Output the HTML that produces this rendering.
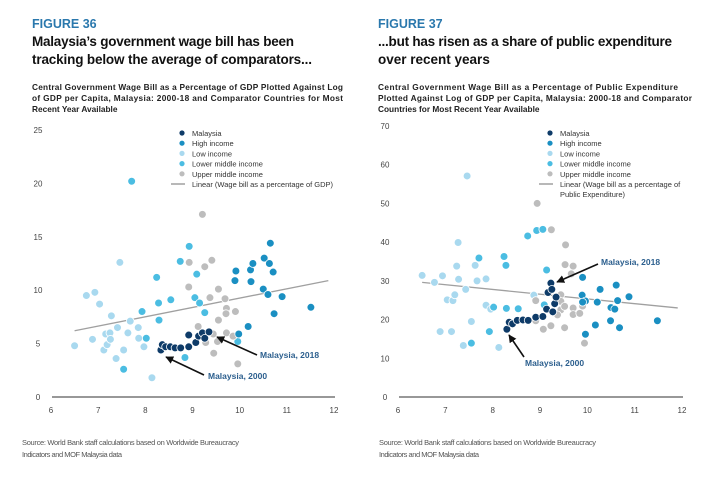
<!DOCTYPE html>
<html><head><meta charset="utf-8"><style>
html,body{margin:0;padding:0;background:#fff}
svg{display:block;font-family:"Liberation Sans",sans-serif}
</style></head><body>
<svg id="root" width="708" height="477" viewBox="0 0 708 477">
<defs><marker id="ah" viewBox="0 0 10 10" refX="9" refY="5" markerWidth="5" markerHeight="5" orient="auto"><path d="M0,0 L10,5 L0,10 z" fill="#111"/></marker></defs>
<g>
<text x="32" y="28" font-size="12.5" font-weight="bold" fill="#2a78ad">FIGURE 36</text>
<text x="32" y="46" font-size="13.5" font-weight="bold" fill="#111" textLength="262">Malaysia’s government wage bill has been</text>
<text x="32" y="64" font-size="13.5" font-weight="bold" fill="#111" textLength="280">tracking below the average of comparators...</text>
<text x="32" y="90" font-size="8.3" font-weight="bold" fill="#222" textLength="311">Central Government Wage Bill as a Percentage of GDP Plotted Against Log</text>
<text x="32" y="101" font-size="8.3" font-weight="bold" fill="#222" textLength="311">of GDP per Capita, Malaysia: 2000-18 and Comparator Countries for Most</text>
<text x="32" y="112" font-size="8.3" font-weight="bold" fill="#222">Recent Year Available</text>
</g>
<g>
<text x="378" y="28" font-size="12.5" font-weight="bold" fill="#2a78ad">FIGURE 37</text>
<text x="378" y="46" font-size="13.5" font-weight="bold" fill="#111" textLength="294">...but has risen as a share of public expenditure</text>
<text x="378" y="64" font-size="13.5" font-weight="bold" fill="#111">over recent years</text>
<text x="378" y="90" font-size="8.3" font-weight="bold" fill="#222" textLength="300">Central Government Wage Bill as a Percentage of Public Expenditure</text>
<text x="378" y="101" font-size="8.3" font-weight="bold" fill="#222" textLength="314">Plotted Against Log of GDP per Capita, Malaysia: 2000-18 and Comparator</text>
<text x="378" y="112" font-size="8.3" font-weight="bold" fill="#222">Countries for Most Recent Year Available</text>
</g>
<g font-size="7.5" fill="#555">
<text x="22" y="445" textLength="217">Source: World Bank staff calculations based on Worldwide Bureaucracy</text>
<text x="22" y="457" textLength="100">Indicators and MOF Malaysia data</text>
<text x="379" y="445" textLength="217">Source: World Bank staff calculations based on Worldwide Bureaucracy</text>
<text x="379" y="457" textLength="100">Indicators and MOF Malaysia data</text>
</g>
<g id="c1"></g>
<g id="c2"></g>
</svg>
<script>
// ---- Chart 1 data (wage bill % GDP vs log GDP per capita) ----
const c1XTicks = [6,7,8,9,10,11,12];
const c1YTicks = [0,5,10,15,20,25];
const c1Low = [[6.5,4.8],[6.75,9.5],[6.93,9.8],[6.88,5.4],[7.03,8.7],[7.12,4.4],[7.16,5.9],[7.19,4.9],[7.25,6.0],[7.26,5.4],[7.28,7.6],[7.38,3.6],[7.41,6.5],[7.46,12.6],[7.54,4.4],[7.63,6.0],[7.68,7.1],[7.85,6.5],[7.86,5.5],[7.97,4.7],[8.14,1.8]];
const c1LowerMid = [[7.71,20.2],[7.54,2.6],[7.93,8.0],[8.02,5.5],[8.24,11.2],[8.28,8.8],[8.29,7.2],[8.54,9.1],[8.74,12.7],[8.84,3.7],[8.93,14.1],[9.05,9.3],[9.09,11.5],[9.15,8.8],[9.26,7.9],[9.96,5.2]];
const c1High = [[9.92,11.8],[9.9,10.9],[10.18,6.6],[10.23,11.9],[10.24,10.8],[10.28,12.5],[10.5,10.1],[10.52,13.0],[10.6,9.6],[10.63,12.5],[10.65,14.4],[10.71,11.7],[10.73,7.8],[10.9,9.4],[11.51,8.4],[9.98,5.9]];
const c1UpperMid = [[9.21,17.1],[8.93,12.6],[8.92,10.3],[9.26,12.2],[9.41,12.8],[9.55,10.1],[9.37,9.3],[9.69,9.2],[9.72,8.3],[9.71,7.8],[9.91,8.0],[9.55,7.2],[9.12,6.6],[9.44,5.9],[9.72,6.0],[9.86,5.7],[9.28,5.1],[9.53,5.2],[9.45,4.1],[9.96,3.1]];
const c1Malaysia = [[8.33,4.4],[8.36,4.9],[8.43,4.7],[8.53,4.7],[8.63,4.6],[8.75,4.6],[8.92,4.7],[8.92,5.8],[9.07,5.1],[9.13,5.7],[9.21,6.0],[9.26,5.5],[9.35,6.1]];
const c1Trend = [[6.5,6.2],[11.88,10.9]];
// ---- Chart 2 data (wage bill % public expenditure) ----
const c2XTicks = [6,7,8,9,10,11,12];
const c2YTicks = [0,10,20,30,40,50,60,70];
const c2Low = [[6.51,31.4],[6.77,29.6],[6.94,31.3],[6.89,16.9],[7.04,25.1],[7.16,24.9],[7.2,26.4],[7.24,33.8],[7.28,30.4],[7.27,39.9],[7.13,16.9],[7.38,13.3],[7.43,27.8],[7.46,57.1],[7.55,19.5],[7.63,34.0],[7.67,30.0],[7.86,30.5],[7.86,23.7],[7.96,22.7],[8.13,12.8],[8.87,26.3]];
const c2LowerMid = [[7.71,35.9],[7.55,13.9],[7.93,16.9],[8.02,23.2],[8.24,36.3],[8.28,34.0],[8.29,22.9],[8.54,22.8],[8.74,41.6],[8.93,43.0],[9.06,43.3],[9.14,32.8],[9.09,23.8]];
const c2High = [[9.9,30.9],[9.89,26.3],[9.96,24.8],[9.96,16.2],[10.17,18.6],[10.21,24.5],[10.27,27.8],[10.49,19.7],[10.5,23.1],[10.58,22.7],[10.61,28.9],[10.64,24.9],[10.68,17.9],[10.88,25.9],[11.48,19.7],[9.9,24.5]];
const c2UpperMid = [[8.94,50.0],[9.24,43.2],[9.54,39.3],[9.53,34.2],[9.7,33.8],[9.66,31.8],[8.91,24.9],[9.44,26.4],[9.44,24.7],[9.44,22.5],[9.52,23.4],[9.7,23.0],[9.7,21.3],[9.84,21.6],[9.9,23.5],[9.37,21.2],[9.07,17.5],[9.23,18.4],[9.52,17.9],[9.94,13.9],[8.91,19.7]];
const c2Malaysia = [[8.3,17.5],[8.35,19.3],[8.42,18.9],[8.52,19.8],[8.64,19.9],[8.75,19.8],[8.91,20.6],[9.06,20.8],[9.14,22.7],[9.17,27.0],[9.23,29.4],[9.25,27.8],[9.27,22.0],[9.31,24.1],[9.34,25.8]];
const c2Trend = [[6.51,29.6],[11.91,23.0]];

const NS = 'http://www.w3.org/2000/svg';
const COL = {mal:'#0e3b68', high:'#1a8fc2', low:'#a9d9ef', lmid:'#4bbde2', umid:'#bdbdbd'};
function mk(parent, tag, attrs){const e=document.createElementNS(NS,tag);for(const k in attrs)e.setAttribute(k,attrs[k]);parent.appendChild(e);return e;}

function drawChart(g, cfg){
  const x = v => cfg.x0 + (v-6)/6*(cfg.x1-cfg.x0);
  const y = v => cfg.y0 - v/cfg.yMax*(cfg.y0-cfg.yTop);
  const axis = mk(g,'line',{x1:x(6)+1,x2:x(12)+1,y1:cfg.y0,y2:cfg.y0,stroke:'#777','stroke-width':1.5});
  
  
  cfg.xTicks.forEach(t=>{const e=mk(g,'text',{x:x(t),y:cfg.y0+16,'font-size':8,fill:'#444','text-anchor':'middle'});e.textContent=t;
    
    });
  cfg.yTicks.forEach(t=>{const e=mk(g,'text',{x:cfg.yLabX,y:y(t)+3,'font-size':8,fill:'#444','text-anchor':'middle'});e.textContent=t;
    
    });
  const tr = mk(g,'line',{x1:x(cfg.trend[0][0]),y1:y(cfg.trend[0][1]),x2:x(cfg.trend[1][0]),y2:y(cfg.trend[1][1]),stroke:'#a0a0a0','stroke-width':1.3});
  
  
  const series=[['low',cfg.low,'low-income-point'],['lmid',cfg.lmid,'lower-middle-income-point'],['umid',cfg.umid,'upper-middle-income-point'],['high',cfg.high,'high-income-point'],['mal',cfg.mal,'malaysia-point']];
  series.forEach(([k,arr,name])=>arr.forEach(p=>{const c=mk(g,'circle',{cx:x(p[0]),cy:y(p[1]),r:3.9,fill:COL[k],stroke:'#fff','stroke-width':0.8});
    
    }));
  const L=[['mal','Malaysia'],['high','High income'],['low','Low income'],['lmid','Lower middle income'],['umid','Upper middle income']];
  L.forEach((l,i)=>{const yy=133+i*10.2;
    const d=mk(g,'circle',{cx:cfg.legX,cy:yy,r:2.6,fill:COL[l[0]]});
    
    
    const t=mk(g,'text',{x:cfg.legX+10,y:yy+3,'font-size':7.5,fill:'#333'});t.textContent=l[1];
    
    });
  const ly=133+5*10.2;
  const ll=mk(g,'line',{x1:cfg.legX-11,x2:cfg.legX+3,y1:ly,y2:ly,stroke:'#a0a0a0','stroke-width':1.5});
  
  
  cfg.trendLabel.forEach((s,i)=>{const t=mk(g,'text',{x:cfg.legX+10,y:ly+3+i*10.2,'font-size':7.5,fill:'#333'});t.textContent=s;
    
    });
  cfg.notes.forEach(n=>{const a=mk(g,'line',{x1:n.from[0],y1:n.from[1],x2:n.to[0],y2:n.to[1],stroke:'#111','stroke-width':1.6,'marker-end':'url(#ah)'});
    
    
    const t=mk(g,'text',{x:n.tx,y:n.ty,'font-size':8.5,'font-weight':'bold',fill:'#2c5f8e'});t.textContent=n.text;
    
    });
}
drawChart(document.getElementById('c1'),{x0:51,x1:334,y0:397,yTop:130,yMax:25,yLabX:38,xTicks:c1XTicks,yTicks:c1YTicks,
  low:c1Low,lmid:c1LowerMid,high:c1High,umid:c1UpperMid,mal:c1Malaysia,trend:c1Trend,legX:182,
  trendLabel:['Linear (Wage bill as a percentage of GDP)'],
  notes:[{from:[257,355],to:[217,337],tx:260,ty:358,text:'Malaysia, 2018'},{from:[204,375],to:[166,357],tx:208,ty:379,text:'Malaysia, 2000'}]});
drawChart(document.getElementById('c2'),{x0:398,x1:682,y0:397,yTop:126,yMax:70,yLabX:385,xTicks:c2XTicks,yTicks:c2YTicks,
  low:c2Low,lmid:c2LowerMid,high:c2High,umid:c2UpperMid,mal:c2Malaysia,trend:c2Trend,legX:550,
  trendLabel:['Linear (Wage bill as a percentage of','Public Expenditure)'],
  notes:[{from:[598,264],to:[557,282],tx:601,ty:265,text:'Malaysia, 2018'},{from:[524,357],to:[509,335],tx:525,ty:366,text:'Malaysia, 2000'}]});
</script>
</body></html>
